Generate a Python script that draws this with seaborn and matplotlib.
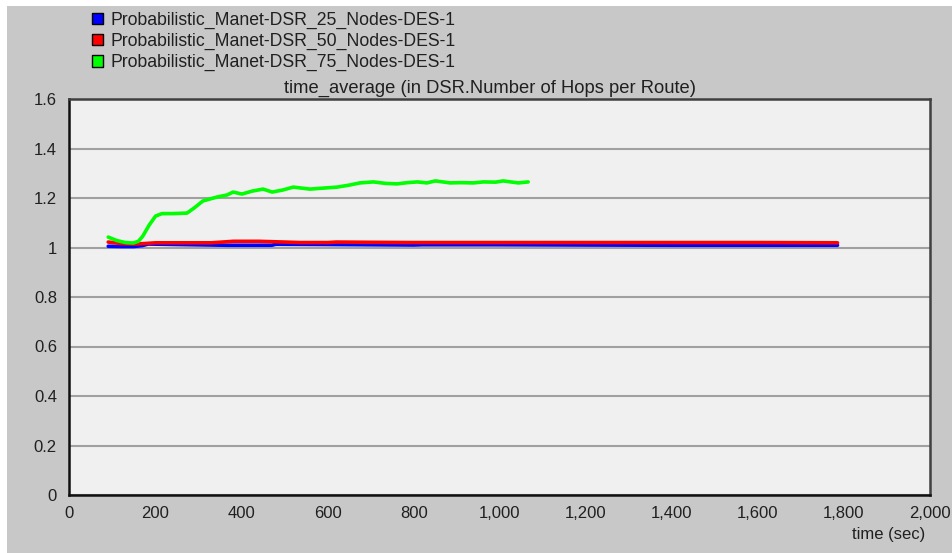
import matplotlib
matplotlib.use("Agg")
import matplotlib.pyplot as plt
from matplotlib.patches import Patch, Rectangle
import pandas as pd
import seaborn as sns

# Series names and colours
series_names = [
    "Probabilistic_Manet-DSR_25_Nodes-DES-1",
    "Probabilistic_Manet-DSR_50_Nodes-DES-1",
    "Probabilistic_Manet-DSR_75_Nodes-DES-1",
]
series_colors = ["#0000ff", "#ff0000", "#00ff00"]

# 25 nodes
t25 = [90, 120, 150, 170, 183, 250, 366, 470, 480, 600, 800, 820, 1000, 1200, 1400, 1600, 1785]
v25 = [1.005, 1.004, 1.004, 1.008, 1.014, 1.012, 1.009, 1.009, 1.013, 1.012, 1.010, 1.011,
       1.011, 1.010, 1.009, 1.009, 1.009]

# 50 nodes
t50 = [90, 120, 148, 175, 200, 260, 330, 381, 440, 500, 536, 600, 620, 700, 800, 900, 1000,
       1200, 1400, 1600, 1785]
v50 = [1.022, 1.016, 1.014, 1.016, 1.019, 1.019, 1.019, 1.025, 1.025, 1.022, 1.020, 1.020,
       1.022, 1.021, 1.020, 1.020, 1.020, 1.020, 1.020, 1.020, 1.019]

# 75 nodes
t75 = [90, 110, 130, 148, 160, 170, 185, 200, 215, 240, 273, 290, 310, 343, 366, 380, 401,
       425, 450, 471, 495, 520, 559, 590, 622, 650, 675, 706, 735, 761, 785, 808, 831, 850,
       885, 910, 939, 962, 990, 1008, 1043, 1066]
v75 = [1.042, 1.028, 1.020, 1.018, 1.025, 1.045, 1.090, 1.127, 1.137, 1.137, 1.139, 1.160,
       1.188, 1.204, 1.212, 1.224, 1.216, 1.228, 1.236, 1.224, 1.232, 1.244, 1.236, 1.240,
       1.244, 1.252, 1.261, 1.265, 1.259, 1.257, 1.262, 1.265, 1.261, 1.269, 1.261, 1.262,
       1.261, 1.265, 1.264, 1.269, 1.261, 1.265]

# Axis ticks
x_ticks = [0, 200, 400, 600, 800, 1000, 1200, 1400, 1600, 1800, 2000]
x_tick_labels = ["0", "200", "400", "600", "800", "1,000", "1,200", "1,400", "1,600", "1,800", "2,000"]
y_ticks = [0, 0.2, 0.4, 0.6, 0.8, 1.0, 1.2, 1.4, 1.6]
y_tick_labels = ["0", "0.2", "0.4", "0.6", "0.8", "1", "1.2", "1.4", "1.6"]

title_text = "time_average (in DSR.Number of Hops per Route)"
x_label = "time (sec)"

frames = []
for name, t, v in zip(series_names, [t25, t50, t75], [v25, v50, v75]):
    frames.append(pd.DataFrame({"time": t, "value": v, "series": name}))
df = pd.concat(frames, ignore_index=True)

sns.set_theme(style="white")
plt.rcParams["font.family"] = ["Liberation Sans", "DejaVu Sans"]

W, H = 953, 553
fig = plt.figure(figsize=(W / 100, H / 100), dpi=100, facecolor="white")

# grey panel behind the plot
fig.patches.append(Rectangle((7 / W, 0), 1 - 7 / W, 1 - 6 / H, transform=fig.transFigure,
                             facecolor="#c8c8c8", edgecolor="none", zorder=-10))

ax = fig.add_axes([69.5 / W, 58 / H, (930 - 69.5) / W, (495 - 99) / H])
ax.set_zorder(1)
ax.set_facecolor("#f0f0f0")

sns.lineplot(data=df, x="time", y="value", hue="series", hue_order=series_names,
             palette=series_colors, linewidth=2.6, estimator=None, sort=False,
             legend=False, ax=ax, zorder=3)

ax.set_xlim(0, 2000)
ax.set_ylim(0, 1.6)
ax.set_xticks(x_ticks)
ax.set_xticklabels(x_tick_labels)
ax.set_yticks(y_ticks)
ax.set_yticklabels(y_tick_labels)
ax.tick_params(axis="both", direction="out", length=6, width=1.2, color="#202020",
               labelsize=12, labelcolor="#202020")
ax.tick_params(axis="y", pad=3)
ax.tick_params(axis="x", pad=2)
ax.yaxis.grid(True, color="#a0a0a0", linewidth=1.5)
ax.xaxis.grid(False)
ax.set_axisbelow(True)

for side in ["left", "bottom"]:
    ax.spines[side].set_color("#101010")
    ax.spines[side].set_linewidth(1.8)
for side in ["top", "right"]:
    ax.spines[side].set_color("#404040")
    ax.spines[side].set_linewidth(1.8)
    ax.spines[side].set_visible(True)

ax.set_xlabel("")
ax.set_ylabel("")
fig.text(925 / W, 1 - 535 / H, x_label, ha="right", va="center", fontsize=12, color="#202020")
fig.text(490 / W, 1 - 88 / H, title_text, ha="center", va="center", fontsize=13.2, color="#202020")

handles = [Patch(facecolor=c, edgecolor="black", linewidth=1.0) for c in series_colors]
fig.legend(handles, series_names, loc="upper left", bbox_to_anchor=(92 / W, 1 - 12 / H),
           frameon=False, fontsize=12.7, handlelength=0.65, handleheight=0.6,
           handletextpad=0.4, labelspacing=0.22, borderpad=0, borderaxespad=0,
           labelcolor="#202020")

fig.savefig("out.png", dpi=100, facecolor="white")
